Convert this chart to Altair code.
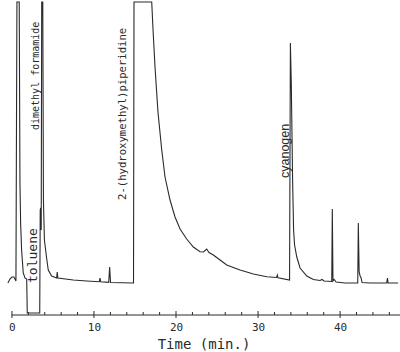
import altair as alt
import pandas as pd

# Chromatogram trace (time in minutes, detector signal in arbitrary units)
time_min = [-0.49, -0.24, 0.0, 0.24, 0.49, 0.61, 0.89, 0.98, 1.06, 1.18, 1.38, 1.59, 1.80, 1.87,
            3.39, 3.45, 3.51, 3.57, 3.63, 3.76, 3.84, 3.96, 4.21, 4.43, 4.84, 5.45, 5.52, 5.60,
            7.48, 9.11, 10.65, 10.73, 10.82, 11.80, 11.91, 12.02, 14.82, 14.88, 17.04, 17.20,
            17.44, 17.80, 18.26, 18.66, 19.27, 19.88, 20.49, 21.30, 22.11, 22.93, 23.35, 23.74,
            24.02, 24.55, 25.37, 26.18, 27.80, 29.43, 31.06, 32.26, 32.35, 32.44, 33.84, 33.94,
            34.05, 34.21, 34.33, 34.45, 34.72, 35.12, 35.94, 36.74, 37.56, 37.80, 38.05, 38.98,
            39.05, 39.13, 39.27, 39.51, 40.61, 42.15, 42.22, 42.32, 42.44, 42.56, 42.68, 43.66,
            45.68, 45.77, 45.85, 47.07]
signal = [32, 36, 38, 38, 34, 313, 313, 132, 92, 65, 42, 37, 36, 2,
          2, 105, 107, 85, 313, 313, 115, 75, 58, 45, 39, 37, 43, 37,
          35, 34, 33.3, 37, 33.3, 32.7, 48, 32.5, 32, 313, 313, 285,
          248, 203, 165, 138, 115, 98, 86, 76, 68, 63.3, 63, 66,
          62.5, 60, 55, 50, 45, 41, 38.3, 37.5, 40, 37.2, 35, 272,
          232, 135, 85, 70, 58, 47, 39, 35.5, 34.5, 35.5, 34, 33.5,
          106, 34, 35.5, 33, 32, 32, 92, 43, 39, 37, 32.5, 32,
          32, 37, 32, 32]

# Peak annotations
peak_labels = ["toluene", "dimethyl formamide", "2-(hydroxymethyl)piperidine", "cyanogen"]
label_time = [2.62, 2.95, 13.54, 33.29]
label_signal = [32, 185, 115, 137]

# Axis
label_ticks = [0, 10, 20, 30, 40]
minor_ticks = [2, 4, 6, 8, 12, 14, 16, 18, 22, 24, 26, 28, 32, 34, 36, 38, 42, 44, 46]
axis_start, axis_end = 0, 47.3

trace = pd.DataFrame({"t": time_min, "s": signal, "i": range(len(time_min))})
ann = pd.DataFrame({"label": peak_labels, "t": label_time, "s": label_signal})
major_df = pd.DataFrame({"t": label_ticks})
minor_df = pd.DataFrame({"t": minor_ticks})
axis_df = pd.DataFrame({"t": [axis_start], "t2": [axis_end]})

ink = "#2a2a2a"
xscale = alt.Scale(domain=[-0.6, 47.3], nice=False, zero=False)
yscale = alt.Scale(domain=[0, 313], nice=False, zero=False)

xaxis = alt.Axis(values=label_ticks, domain=False, ticks=False, grid=False,
                 labelFont="DejaVu Sans Mono", labelFontSize=11, labelPadding=6,
                 labelColor=ink, labelFlush=False,
                 title="Time (min.)", titleFont="DejaVu Sans Mono", titleFontSize=14,
                 titleFontWeight="normal", titleColor=ink, titleY=29, titleBaseline="middle")

line = alt.Chart(trace).mark_line(color=ink, strokeWidth=1.1).encode(
    x=alt.X("t:Q", scale=xscale, axis=xaxis),
    y=alt.Y("s:Q", scale=yscale, axis=None),
    order="i:Q",
)

axis_line = alt.Chart(axis_df).mark_rule(color=ink, strokeWidth=1.2).encode(
    x=alt.X("t:Q", scale=xscale), x2="t2:Q", y=alt.datum(0, scale=yscale)
)
major = alt.Chart(major_df).mark_rule(color=ink, strokeWidth=1).encode(
    x=alt.X("t:Q", scale=xscale), y=alt.datum(-3), y2=alt.datum(4)
)
minor = alt.Chart(minor_df).mark_rule(color=ink, strokeWidth=1).encode(
    x=alt.X("t:Q", scale=xscale), y=alt.datum(0), y2=alt.datum(3)
)

def label_layer(name, font, size):
    return alt.Chart(ann[ann["label"] == name]).mark_text(
        angle=270, align="left", baseline="middle", font=font, fontSize=size, color=ink
    ).encode(x=alt.X("t:Q", scale=xscale), y=alt.Y("s:Q", scale=yscale), text="label:N")

texts = [
    label_layer("toluene", "DejaVu Sans Mono", 13),
    label_layer("dimethyl formamide", "DejaVu Sans Mono", 10),
    label_layer("2-(hydroxymethyl)piperidine", "DejaVu Sans Mono", 10.6),
    label_layer("cyanogen", "Liberation Sans", 12.5),
]

chart = alt.layer(line, axis_line, major, minor, *texts).properties(
    width=393, height=313,
    padding={"left": 7, "top": 2, "right": 0, "bottom": 37},
    autosize="none", background="white",
).configure_view(stroke=None)

chart.save("out.html", embed_options={"renderer": "svg", "actions": False})
